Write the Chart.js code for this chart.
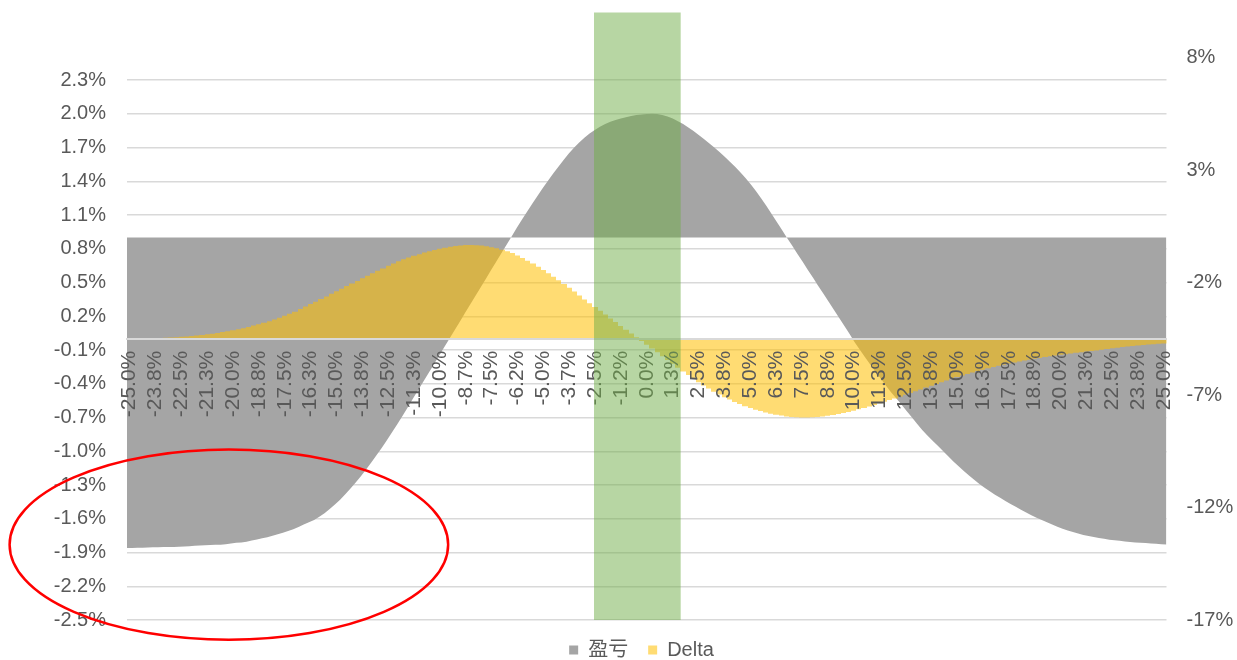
<!DOCTYPE html>
<html lang="zh-CN">
<head>
<meta charset="utf-8">
<title>盈亏 / Delta</title>
<script src="https://cdn.jsdelivr.net/npm/chart.js@4.4.1/dist/chart.umd.min.js"></script>
<style>
    html, body { margin: 0; padding: 0; background: #fff; }
    .chart-box { position: relative; width: 1237px; height: 660px; }
</style>
</head>
<body>
<div class="chart-box"><canvas id="pnlChart"></canvas></div>
<script>
// underlying move, -25% .. +25% in 0.25% steps; one label every 5 points
const xStart = -25;
const xStep = 0.25;
const barsPerTick = 5;
const xTickLabels = [
    '-25.0%', '-23.8%', '-22.5%', '-21.3%', '-20.0%', '-18.8%', '-17.5%', '-16.3%', '-15.0%', '-13.8%',
    '-12.5%', '-11.3%', '-10.0%', '-8.7%', '-7.5%', '-6.2%', '-5.0%', '-3.7%', '-2.5%', '-1.2%',
    '0.0%', '1.3%', '2.5%', '3.8%', '5.0%', '6.3%', '7.5%', '8.8%', '10.0%', '11.3%',
    '12.5%', '13.8%', '15.0%', '16.3%', '17.5%', '18.8%', '20.0%', '21.3%', '22.5%', '23.8%', '25.0%'
];

// 盈亏 (%), right axis
const pnl = [
    -13.80, -13.80, -13.79, -13.79, -13.78, -13.77, -13.77, -13.76, -13.75, -13.75, -13.74,
    -13.73, -13.72, -13.70, -13.69, -13.68, -13.67, -13.66, -13.65,
    -13.63, -13.60, -13.57, -13.55, -13.52,
    -13.47, -13.42, -13.37, -13.32,
    -13.26, -13.19, -13.12, -13.04, -12.97,
    -12.87, -12.76, -12.66, -12.55,
    -12.41, -12.25, -12.07, -11.87,
    -11.65, -11.41, -11.16, -10.89,
    -10.61, -10.31, -10.00,
    -9.68, -9.35, -9.01, -8.66, -8.30,
    -7.93, -7.55, -7.17, -6.79, -6.41, -6.03, -5.65, -5.27, -4.89, -4.51, -4.13,
    -3.75, -3.37, -2.99, -2.61, -2.23, -1.85, -1.47, -1.09, -0.71, -0.33, 0.05,
    0.43, 0.80, 1.16, 1.51, 1.86, 2.20, 2.52,
    2.84, 3.15, 3.45, 3.73, 3.99, 4.22,
    4.43, 4.62, 4.78, 4.92, 5.04, 5.14, 5.22, 5.29, 5.35, 5.40, 5.44, 5.47, 5.49, 5.50, 5.49, 5.45,
    5.38, 5.29, 5.17, 5.04, 4.89, 4.73, 4.56, 4.38, 4.19, 4.00,
    3.80, 3.59, 3.37, 3.14, 2.90, 2.65,
    2.37, 2.07, 1.75, 1.41, 1.06, 0.70, 0.34,
    -0.02, -0.37, -0.73, -1.08, -1.44, -1.79, -2.15, -2.50, -2.86, -3.21, -3.57, -3.92, -4.28,
    -4.66, -4.99, -5.32, -5.64, -5.96, -6.27, -6.58, -6.88, -7.14,
    -7.42, -7.71, -7.99, -8.28, -8.56,
    -8.80, -9.03, -9.26, -9.49, -9.72,
    -9.95, -10.17, -10.38, -10.58, -10.77, -10.95, -11.12, -11.28, -11.43, -11.57,
    -11.71, -11.84, -11.97, -12.10, -12.22, -12.34,
    -12.45, -12.56, -12.66, -12.76, -12.86,
    -12.94, -13.02, -13.09, -13.16, -13.22,
    -13.27, -13.31, -13.35, -13.39, -13.43,
    -13.46, -13.48, -13.51, -13.53, -13.55,
    -13.57, -13.58, -13.60, -13.61, -13.63, -13.64
];

// Delta (%), left axis
const delta = [
    0.000, 0.000, 0.001, 0.002, 0.003, 0.004, 0.006, 0.008, 0.011, 0.014, 0.017, 0.021, 0.025, 0.029, 0.034, 0.039, 0.045,
    0.052, 0.059, 0.067, 0.075, 0.084, 0.094, 0.105, 0.117, 0.129, 0.142, 0.156, 0.171, 0.187, 0.204, 0.222, 0.241,
    0.265, 0.286, 0.308, 0.330, 0.353, 0.376, 0.399, 0.422, 0.445, 0.468, 0.491, 0.514, 0.537, 0.560, 0.582, 0.604, 0.625,
    0.648, 0.669, 0.689, 0.706,
    0.722, 0.738, 0.752, 0.766, 0.778, 0.790, 0.800, 0.810, 0.818, 0.825, 0.830, 0.833, 0.834, 0.832, 0.828, 0.822,
    0.814, 0.804, 0.792, 0.778, 0.762,
    0.741, 0.718, 0.694, 0.668, 0.641, 0.612, 0.582, 0.551, 0.519, 0.486, 0.453, 0.420, 0.385,
    0.350, 0.316, 0.282, 0.249, 0.215, 0.181, 0.148, 0.114, 0.081, 0.047, 0.014, -0.020, -0.053,
    -0.087, -0.121, -0.155, -0.189, -0.223, -0.257, -0.290, -0.323, -0.355, -0.386,
    -0.415, -0.443, -0.470, -0.495, -0.519, -0.541, -0.562, -0.581, -0.599, -0.615,
    -0.630, -0.643, -0.655, -0.666, -0.675, -0.683, -0.690, -0.695, -0.698, -0.700,
    -0.700, -0.698, -0.695, -0.690, -0.684, -0.677, -0.669, -0.660, -0.650, -0.639,
    -0.627, -0.615, -0.602, -0.588, -0.574, -0.560, -0.545, -0.530, -0.514, -0.498,
    -0.482, -0.466, -0.450, -0.434, -0.418, -0.402, -0.386, -0.371, -0.356, -0.341,
    -0.327, -0.313, -0.300, -0.287, -0.275, -0.263, -0.252, -0.241, -0.231, -0.221,
    -0.212, -0.203, -0.194, -0.186, -0.178, -0.170, -0.163, -0.156, -0.149, -0.143,
    -0.137, -0.131, -0.125, -0.119, -0.114, -0.109, -0.104,
    -0.097, -0.091, -0.085, -0.079, -0.074, -0.069, -0.064, -0.060, -0.056, -0.052, -0.048, -0.045, -0.042
];

const leftTicks = [-2.5, -2.2, -1.9, -1.6, -1.3, -1.0, -0.7, -0.4, -0.1, 0.2, 0.5, 0.8, 1.1, 1.4, 1.7, 2.0, 2.3];
const rightTicks = [-17, -12, -7, -2, 3, 8];

// shaded zone around the current level, in underlying-move %
const bandRange = [-2.55, 1.64];
const bandTop = 2.9;
// highlighted region, centre and radii in axis units
const ring = { x: -20.2, y: -1.83, rx: 10.6, ry: 0.845 };

Chart.defaults.font.family = "'Liberation Sans', Arial, 'Noto Sans CJK SC', sans-serif";
Chart.defaults.font.size = 20;
Chart.defaults.color = '#595959';

const toIndex = (v) => (v - xStart) / xStep;

// snap bar edges to whole pixels so neighbouring bars don't leave seams
const snapBars = {
    id: 'snapBars',
    beforeDatasetsDraw(chart) {
        chart.getSortedVisibleDatasetMetas().forEach((meta) => {
            if (meta.type !== 'bar') return;
            meta.data.forEach((bar) => {
                const l = Math.round(bar.x - bar.width / 2);
                const r = Math.round(bar.x + bar.width / 2);
                bar.x = (l + r) / 2;
                bar.width = r - l;
            });
        });
    }
};

const overlay = {
    id: 'overlay',
    afterDraw(chart) {
        const { ctx, scales: { x, y } } = chart;
        const left = x.getPixelForValue(toIndex(bandRange[0]));
        const right = x.getPixelForValue(toIndex(bandRange[1]));
        const top = y.getPixelForValue(bandTop);
        const bottom = y.getPixelForValue(y.min);
        ctx.save();
        ctx.fillStyle = 'rgba(112, 173, 71, 0.5)';
        ctx.fillRect(left, top, right - left, bottom - top);

        const cx = x.getPixelForValue(toIndex(ring.x));
        const cy = y.getPixelForValue(ring.y);
        const rx = Math.abs(x.getPixelForValue(toIndex(ring.x + ring.rx)) - cx);
        const ry = Math.abs(y.getPixelForValue(ring.y + ring.ry) - cy);
        ctx.beginPath();
        ctx.ellipse(cx, cy, rx, ry, 0, 0, Math.PI * 2);
        ctx.strokeStyle = '#ff0000';
        ctx.lineWidth = 2.5;
        ctx.stroke();
        ctx.restore();
    }
};

new Chart(document.getElementById('pnlChart').getContext('2d'), {
    type: 'bar',
    data: {
        labels: pnl.map((_, i) => i),
        datasets: [
            {
                type: 'line',
                label: '盈亏',
                data: pnl,
                xAxisID: 'x2',
                yAxisID: 'y2',
                backgroundColor: '#a5a5a5',
                borderColor: '#a5a5a5',
                borderWidth: 0,
                pointRadius: 0,
                fill: 'origin',
                order: 2
            },
            {
                label: 'Delta',
                data: delta,
                xAxisID: 'x',
                yAxisID: 'y',
                backgroundColor: 'rgba(255, 192, 0, 0.55)',
                grouped: false,
                barPercentage: 1,
                categoryPercentage: 1,
                borderWidth: 0,
                inflateAmount: 0,
                order: 1
            }
        ]
    },
    options: {
        responsive: true,
        maintainAspectRatio: false,
        animation: false,
        events: [],
        layout: { padding: { left: 46, top: 57.5, right: 0, bottom: -10 } },
        plugins: {
            legend: {
                position: 'bottom',
                labels: {
                    boxWidth: 9,
                    boxHeight: 9,
                    padding: 20,
                    color: '#595959',
                    font: { size: 20 },
                    sort: (a, b) => a.datasetIndex - b.datasetIndex
                }
            },
            tooltip: { enabled: false }
        },
        scales: {
            x: {
                type: 'category',
                position: { y: 0 },
                offset: true,
                grid: { display: false, drawTicks: false },
                border: { display: true, color: '#d9d9d9', width: 2, z: 1 },
                ticks: {
                    autoSkip: false,
                    minRotation: 90,
                    maxRotation: 90,
                    padding: 12,
                    z: 1,
                    font: { size: 21 },
                    callback: (value, index) => (index % barsPerTick === 0 ? xTickLabels[index / barsPerTick] : '')
                }
            },
            // hidden axis for the P&L area: points sit on the tick marks, edge to edge
            x2: {
                type: 'category',
                position: 'top',
                offset: false,
                display: false
            },
            y: {
                position: 'left',
                min: -2.5,
                max: 2.5,
                afterBuildTicks: (scale) => { scale.ticks = leftTicks.map((value) => ({ value })); },
                afterFit: (scale) => { scale.width = 81; },
                grid: { color: '#d9d9d9', lineWidth: 1.5, drawTicks: false },
                border: { display: false },
                ticks: { padding: 21, callback: (v) => v.toFixed(1) + '%' }
            },
            y2: {
                position: 'right',
                min: -17,
                max: 8,
                afterBuildTicks: (scale) => { scale.ticks = rightTicks.map((value) => ({ value })); },
                afterFit: (scale) => { scale.width = 70.5; },
                grid: { display: false, drawTicks: false },
                border: { display: false },
                ticks: { padding: 20, callback: (v) => v + '%' }
            }
        }
    },
    plugins: [snapBars, overlay]
});
</script>
</body>
</html>
